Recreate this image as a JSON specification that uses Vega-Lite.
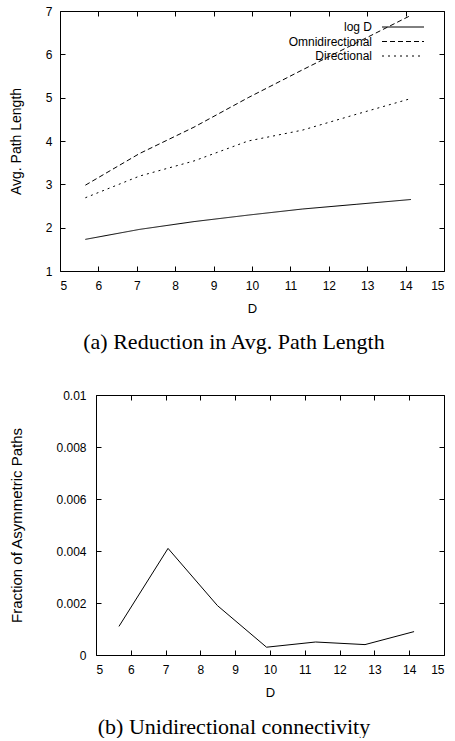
{
  "$schema": "https://vega.github.io/schema/vega-lite/v6.json",
  "padding": {"left": 9, "right": 5, "top": 5, "bottom": 0},
  "background": "white",
  "spacing": 36,
  "config": {
    "view": {"stroke": null},
    "axis": {"domain": true, "domainColor": "black", "domainWidth": 1, "grid": false, "tickColor": "black", "tickSize": -5, "tickWidth": 1,
      "labelFont": "Liberation Sans", "labelFontSize": 12, "labelColor": "black", "labelPadding": 14,
      "titleFont": "Liberation Sans", "titleFontSize": 13, "titleFontWeight": "normal", "titleColor": "black"},
    "title": {"font": "Liberation Serif", "fontSize": 22, "fontWeight": "normal", "color": "black", "orient": "bottom", "offset": 17, "dx": -18},
    "legend": {"orient": "none", "symbolType": "M-21,0H21", "symbolSize": 4, "symbolStrokeColor": "black", "symbolStrokeWidth": 1,
      "labelAlign": "right", "labelOffset": -37, "labelFont": "Liberation Sans", "labelFontSize": 12, "labelColor": "black",
      "rowPadding": 2.5, "padding": 0, "title": null}
  },
  "vconcat": [
    {
      "width": 384,
      "height": 260,
      "title": {"text": "(a) Reduction in Avg. Path Length"},
      "data": {"values": [
        {"D": 5.66, "series": "log D", "v": 1.73},
        {"D": 7.07, "series": "log D", "v": 1.96},
        {"D": 8.49, "series": "log D", "v": 2.14},
        {"D": 9.9, "series": "log D", "v": 2.29},
        {"D": 11.31, "series": "log D", "v": 2.43},
        {"D": 12.73, "series": "log D", "v": 2.54},
        {"D": 14.14, "series": "log D", "v": 2.65},
        {"D": 5.66, "series": "Omnidirectional", "v": 2.98},
        {"D": 7.07, "series": "Omnidirectional", "v": 3.71},
        {"D": 8.49, "series": "Omnidirectional", "v": 4.32},
        {"D": 9.9, "series": "Omnidirectional", "v": 5.0},
        {"D": 11.31, "series": "Omnidirectional", "v": 5.64},
        {"D": 12.73, "series": "Omnidirectional", "v": 6.27},
        {"D": 14.14, "series": "Omnidirectional", "v": 6.9},
        {"D": 5.66, "series": "Directional", "v": 2.69},
        {"D": 7.07, "series": "Directional", "v": 3.19},
        {"D": 8.49, "series": "Directional", "v": 3.54},
        {"D": 9.9, "series": "Directional", "v": 4.0},
        {"D": 11.31, "series": "Directional", "v": 4.25},
        {"D": 12.73, "series": "Directional", "v": 4.62},
        {"D": 14.14, "series": "Directional", "v": 4.98}
      ]},
      "layer": [
        {
          "mark": {"type": "line", "color": "black", "strokeWidth": 1},
          "encoding": {
            "x": {"field": "D", "type": "quantitative", "scale": {"domain": [5, 15], "nice": false},
              "axis": {"orient": "bottom", "values": [5,6,7,8,9,10,11,12,13,14,15], "title": "D", "titlePadding": 11}},
            "y": {"field": "v", "type": "quantitative", "scale": {"domain": [1, 7], "nice": false},
              "axis": {"orient": "left", "values": [1,2,3,4,5,6,7], "title": "Avg. Path Length", "titleFontSize": 14, "titlePadding": 22, "labelPadding": 13}},
            "strokeDash": {"field": "series", "type": "nominal",
              "scale": {"domain": ["log D", "Omnidirectional", "Directional"], "range": [[1, 0], [5, 3], [2, 4]]},
              "legend": {"legendX": 337, "legendY": 10}}
          }
        },
        {
          "mark": {"type": "line", "opacity": 0},
          "encoding": {
            "x": {"field": "D", "type": "quantitative", "scale": {"domain": [5, 15], "nice": false},
              "axis": {"orient": "top", "values": [5,6,7,8,9,10,11,12,13,14,15], "labels": false, "title": null}},
            "y": {"field": "v", "type": "quantitative", "scale": {"domain": [1, 7], "nice": false},
              "axis": {"orient": "right", "values": [1,2,3,4,5,6,7], "labels": false, "title": null}},
            "detail": {"field": "series"}
          }
        }
      ],
      "resolve": {"axis": {"x": "independent", "y": "independent"}}
    },
    {
      "width": 384,
      "height": 260,
      "title": {"text": "(b)  Unidirectional  connectivity", "offset": 18},
      "data": {"values": [
        {"D": 5.66, "frac": 0.0011},
        {"D": 7.07, "frac": 0.0041},
        {"D": 8.49, "frac": 0.0019},
        {"D": 9.9, "frac": 0.0003},
        {"D": 11.31, "frac": 0.0005},
        {"D": 12.73, "frac": 0.0004},
        {"D": 14.14, "frac": 0.0009}
      ]},
      "layer": [
        {
          "mark": {"type": "line", "color": "black", "strokeWidth": 1},
          "encoding": {
            "x": {"field": "D", "type": "quantitative", "scale": {"domain": [5, 15], "nice": false, "range": [36, 384]},
              "axis": {"orient": "bottom", "values": [5,6,7,8,9,10,11,12,13,14,15], "title": "D", "titlePadding": 11}},
            "y": {"field": "frac", "type": "quantitative", "scale": {"domain": [0, 0.01], "nice": false},
              "axis": {"orient": "left", "offset": -36, "values": [0, 0.002, 0.004, 0.006, 0.008, 0.01], "format": "~g", "title": "Fraction of Asymmetric Paths", "titleFontSize": 15, "titlePadding": 31, "labelPadding": 15}}
          }
        },
        {
          "mark": {"type": "line", "opacity": 0},
          "encoding": {
            "x": {"field": "D", "type": "quantitative", "scale": {"domain": [5, 15], "nice": false, "range": [36, 384]},
              "axis": {"orient": "top", "values": [5,6,7,8,9,10,11,12,13,14,15], "labels": false, "title": null}},
            "y": {"field": "frac", "type": "quantitative", "scale": {"domain": [0, 0.01], "nice": false},
              "axis": {"orient": "right", "values": [0, 0.002, 0.004, 0.006, 0.008, 0.01], "labels": false, "title": null}}
          }
        }
      ],
      "resolve": {"axis": {"x": "independent", "y": "independent"}}
    }
  ]
}
